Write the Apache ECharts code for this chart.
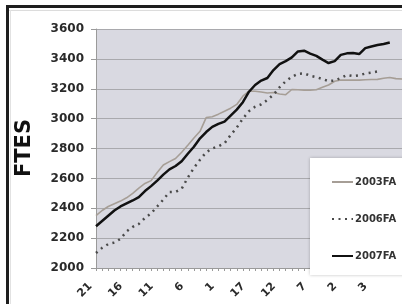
<!DOCTYPE html>
<html>
<head>
<meta charset="utf-8">
<script src="https://cdn.jsdelivr.net/npm/echarts@6/dist/echarts.min.js"></script>
<style>
html,body{margin:0;padding:0;background:#fff;}
#c{width:402px;height:304px;}
</style>
</head>
<body>
<div id="c"></div>
<script>
// Category labels (weeks): countdown, second countdown, then count-up
const categories = [
  '21','20','19','18','17','16','15','14','13','12','11','10','9','8','7','6','5','4','3','2','1',
  '21','20','19','18','17','16','15','14','13','12','11','10','9','8','7','6','5','4','3','2','1','0',
  '1','2','3','4','5','6','7','8'
];
const fa2003 = [2350,2385,2412,2430,2448,2470,2500,2535,2566,2585,2640,2690,2712,2733,2775,2822,2870,2915,3007,3013,
  3030,3050,3070,3095,3150,3185,3183,3178,3172,3175,3165,3160,3195,3193,3190,3190,3193,3210,3225,3250,
  3258,3258,3258,3258,3260,3262,3263,3270,3275,3268,3265];
const fa2006 = [2100,2135,2160,2170,2195,2245,2275,2295,2335,2365,2412,2458,2509,2510,2530,2605,2670,2725,2775,2800,
  2815,2835,2890,2940,3000,3050,3080,3095,3125,3160,3210,3250,3280,3300,3303,3287,3278,3265,3252,3255,
  3272,3292,3285,3290,3302,3308,3316];
const fa2007 = [2280,2315,2350,2385,2412,2432,2452,2475,2515,2548,2585,2625,2660,2683,2715,2765,2812,2868,2910,2945,
  2965,2980,3020,3060,3110,3180,3225,3255,3272,3325,3365,3385,3410,3450,3455,3435,3420,3395,3372,3385,
  3427,3437,3440,3432,3472,3483,3493,3500,3510];
const seriesNames = ['2003FA','2006FA','2007FA'];
const yMin = 2000, yMax = 3600, yStep = 200;
const axisTitle = 'FTES';

const chart = echarts.init(document.getElementById('c'), null, {renderer:'canvas'});
chart.setOption({
  animation:false,
  backgroundColor:'#ffffff',
  grid:{left:96, right:0, top:29, bottom:36, backgroundColor:'#d9d9e1', show:true, borderWidth:0},
  xAxis:{
    type:'category', data:categories, boundaryGap:false,
    axisLine:{show:true, lineStyle:{color:'#9a9a9a', width:1}},
    axisTick:{show:true, interval:0, length:3, inside:false, lineStyle:{color:'#9a9a9a'}},
    axisLabel:{interval:4, rotate:45, margin:11, padding:[0,8,0,0], showMaxLabel:false,
      fontFamily:'DejaVu Sans', fontWeight:'bold', fontSize:11, color:'#2a2a2a'},
    splitLine:{show:false}
  },
  yAxis:{
    type:'value', min:yMin, max:yMax, interval:yStep,
    axisLine:{show:true, lineStyle:{color:'#9a9a9a'}},
    axisTick:{show:true, length:5, lineStyle:{color:'#9a9a9a'}},
    axisLabel:{margin:12, formatter:function(v){return String(v);},
      fontFamily:'DejaVu Sans', fontWeight:'bold', fontSize:12, color:'#2a2a2a'},
    splitLine:{show:true, lineStyle:{color:'#a9a9ad', width:1}}
  },
  legend:{
    orient:'vertical', left:326, top:172, itemWidth:21, itemHeight:12, itemGap:27,
    data:seriesNames, z:10, itemStyle:{opacity:0},
    textStyle:{fontFamily:'DejaVu Sans', fontWeight:'bold', fontSize:10, color:'#333', padding:[0,0,0,-3]}
  },
  graphic:[
    {type:'rect', z:5, shape:{x:310, y:158, width:100, height:117},
     style:{fill:'#ffffff', shadowBlur:3, shadowColor:'rgba(0,0,0,0.25)'}},
    {type:'rect', z:20, shape:{x:6, y:5, width:400, height:3}, style:{fill:'#1e1e1e'}},
    {type:'rect', z:20, shape:{x:6, y:5, width:3, height:300}, style:{fill:'#1e1e1e'}},
    {type:'rect', z:20, shape:{x:9, y:10, width:400, height:1}, style:{fill:'#dcdcdc'}},
    {type:'rect', z:20, shape:{x:10, y:10, width:1, height:300}, style:{fill:'#e2e2e2'}},
    {type:'text', z:20, x:25, y:148, rotation:Math.PI/2,
     style:{text:axisTitle, font:'bold 21px "DejaVu Sans"', fill:'#111', textAlign:'center', textVerticalAlign:'middle'}}
  ],
  series:[
    {name:seriesNames[0], type:'line', data:fa2003, symbol:'none', smooth:false, z:2,
     lineStyle:{color:'#a69e96', width:1.6}, itemStyle:{color:'#a69e96'}},
    {name:seriesNames[1], type:'line', data:fa2006, symbol:'none', z:3,
     lineStyle:{color:'#4a4a4a', width:2.5, type:[2,4.5], cap:'butt'}, itemStyle:{color:'#4a4a4a'}},
    {name:seriesNames[2], type:'line', data:fa2007, symbol:'none', z:4,
     lineStyle:{color:'#111111', width:2.5}, itemStyle:{color:'#111111'}}
  ]
});
</script>
</body>
</html>
